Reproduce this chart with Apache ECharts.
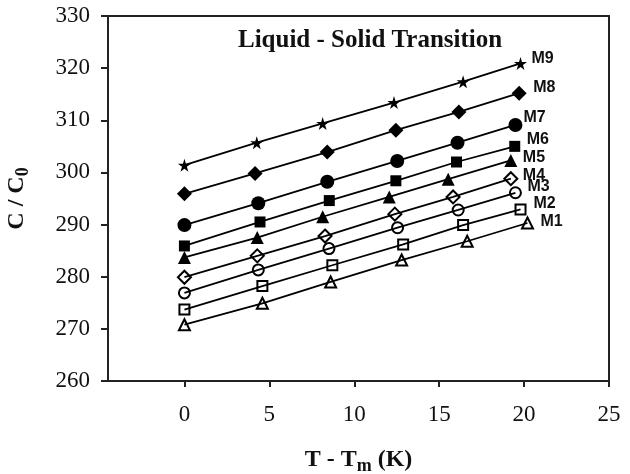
<!DOCTYPE html>
<html>
<head>
<meta charset="utf-8">
<script src="https://cdn.jsdelivr.net/npm/echarts@6/dist/echarts.min.js"></script>
<style>html,body{margin:0;padding:0;background:#fff}#c{width:630px;height:474px}</style>
</head>
<body>
<div id="c"></div>
<script>
// Data: [T - Tm (K), C / C0]
const M1 = [[0,270.8],[4.59,274.9],[8.61,279.0],[12.79,283.2],[16.65,286.8],[20.2,290.3]];
const M2 = [[0,273.7],[4.59,278.2],[8.71,282.2],[12.88,286.2],[16.41,289.9],[19.79,292.9]];
const M3 = [[0,276.9],[4.35,281.3],[8.51,285.4],[12.55,289.4],[16.12,292.8],[19.49,296.1]];
const M4 = [[0,279.9],[4.29,284.0],[8.28,287.8],[12.39,292.0],[15.82,295.3],[19.22,298.8]];
const M5 = [[0,283.7],[4.29,287.5],[8.14,291.5],[12.06,295.3],[15.53,298.7],[19.22,302.3]];
const M6 = [[0,285.9],[4.45,290.5],[8.53,294.6],[12.45,298.4],[16.02,302.0],[19.45,305.0]];
const M7 = [[0,289.9],[4.35,294.1],[8.41,298.2],[12.53,302.2],[16.08,305.7],[19.49,309.1]];
const M8 = [[0,295.9],[4.16,299.8],[8.41,303.9],[12.45,308.1],[16.16,311.6],[19.71,315.2]];
const M9 = [[0,301.4],[4.26,305.7],[8.14,309.4],[12.34,313.4],[16.41,317.4],[19.79,320.9]];
const seriesNames = ['M1','M2','M3','M4','M5','M6','M7','M8','M9'];
const seriesData = [M1,M2,M3,M4,M5,M6,M7,M8,M9];
const xTicks = [0,5,10,15,20,25];
const yTicks = [260,270,280,290,300,310,320,330];

const STAR = 'path://M50,0 L61,35 L98,35 L68,57 L79,91 L50,70 L21,91 L32,57 L2,35 L39,35 Z';
// marker styles per series
const styles = [
  {symbol:'triangle', size:11, open:true,  lab:[12,-1]},
  {symbol:'rect',     size:10, open:true,  lab:[12,-6]},
  {symbol:'circle',   size:11, open:true,  lab:[11,-6]},
  {symbol:'diamond',  size:13, open:true,  lab:[11,-3]},
  {symbol:'triangle', size:13, open:false, lab:[12,-3]},
  {symbol:'rect',     size:11, open:false, lab:[12,-7]},
  {symbol:'circle',   size:14, open:false, lab:[8,-7]},
  {symbol:'diamond',  size:15, open:false, lab:[14,-6]},
  {symbol:STAR,       size:13, open:false, lab:[11,-5]}
];

const series = seriesNames.map((name, i) => {
  const st = styles[i];
  const d = seriesData[i];
  return {
    name: name,
    type: 'line',
    symbol: st.symbol,
    symbolSize: st.size,
    showAllSymbol: true,
    lineStyle: {color:'#000', width:1.8},
    itemStyle: st.open ? {color:'rgba(0,0,0,0)', borderColor:'#000', borderWidth:2}
                       : {color:'#000', borderColor:'#000', borderWidth:0},
    emphasis: {disabled:true},
    z: 3,
    data: d.map((p, k) => k === d.length - 1 ? {
      value: p,
      label: {
        show: true, position: 'right', distance: 0,
        offset: [st.lab[0] - st.size/2, st.lab[1]],
        formatter: name,
        fontFamily: 'Liberation Sans, Arial, sans-serif',
        fontWeight: 'bold', fontSize: 16, color: '#111'
      }
    } : p)
  };
});

const serif = 'Liberation Serif, Times New Roman, serif';
const chart = echarts.init(document.getElementById('c'), null, {renderer:'canvas'});
chart.setOption({
  animation: false,
  backgroundColor: '#fff',
  title: {
    text: 'Liquid - Solid Transition',
    left: 233, top: 23,
    textStyle: {fontFamily: serif, fontWeight:'bold', fontSize: 25, color:'#111'}
  },
  grid: {left:108, right:21, top:16, bottom:93, outerBoundsMode:'none', containLabel:false,
         show:true, borderColor:'#222', borderWidth:2, backgroundColor:'rgba(0,0,0,0)'},
  xAxis: {
    type:'value', min:-4.5, max:25,
    name: '{a|T - T}{b|m}{a| (K)}',
    nameLocation:'middle', nameGap: 64,
    nameTextStyle: {
      rich: {
        a: {fontFamily: serif, fontWeight:'bold', fontSize: 24, color:'#111'},
        b: {fontFamily: serif, fontWeight:'bold', fontSize: 18, color:'#111', padding:[12,0,0,0]}
      }
    },
    axisLine: {show:true, onZero:false, lineStyle:{color:'#222', width:2}},
    axisTick: {show:true, inside:false, length:6, customValues: xTicks, lineStyle:{color:'#222', width:2}},
    axisLabel: {customValues: xTicks, margin: 22, fontFamily: serif, fontSize: 23, color:'#111'},
    splitLine: {show:false}
  },
  yAxis: {
    type:'value', min:260, max:330, interval:10,
    name: '{a|C / C}{b|0}',
    nameLocation:'middle', nameGap: 76, nameRotate: 90,
    nameTextStyle: {
      rich: {
        a: {fontFamily: serif, fontWeight:'bold', fontSize: 24, color:'#111'},
        b: {fontFamily: serif, fontWeight:'bold', fontSize: 18, color:'#111', padding:[12,0,0,0]}
      }
    },
    axisLine: {show:true, onZero:false, lineStyle:{color:'#222', width:2}},
    axisTick: {show:true, inside:false, length:7, lineStyle:{color:'#222', width:2}},
    axisLabel: {margin: 18, fontFamily: serif, fontSize: 23, color:'#111',
      formatter: v => yTicks.includes(v) ? String(v) : ''},
    splitLine: {show:false}
  },
  series: series
});
</script>
</body>
</html>
